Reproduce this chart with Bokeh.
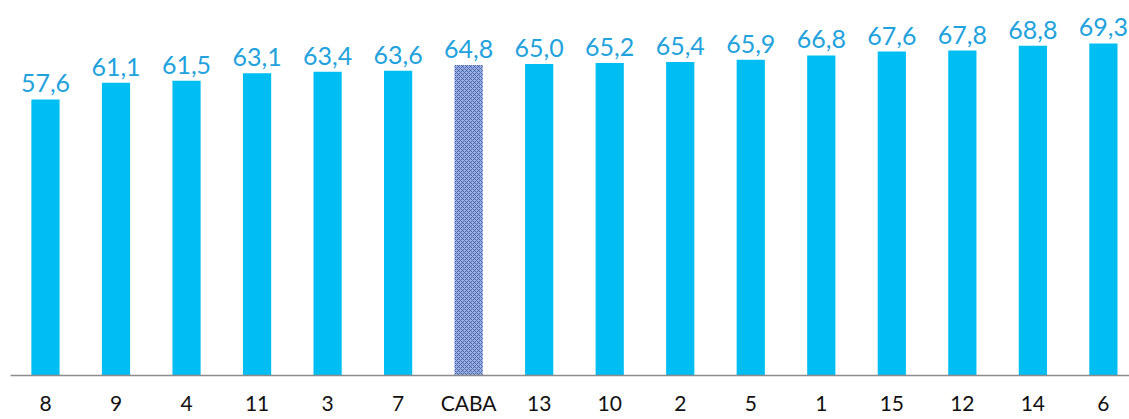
from bokeh.plotting import figure
from bokeh.models import ColumnDataSource, Range1d, FixedTicker, LabelSet
from bokeh.core.properties import value
from bokeh.embed import file_html
from bokeh.resources import INLINE

categories = ["8", "9", "4", "11", "3", "7", "CABA", "13", "10", "2", "5", "1", "15", "12", "14", "6"]
values = [57.6, 61.1, 61.5, 63.1, 63.4, 63.6, 64.8, 65.0, 65.2, 65.4, 65.9, 66.8, 67.6, 67.8, 68.8, 69.3]
highlight = "CABA"

idx = list(range(len(categories)))
src = ColumnDataSource(dict(
    x=idx,
    v=values,
    lab=[f"{v:.1f}".replace(".", ",") for v in values],
    color=["#9db2e3" if c == highlight else "#00bdf2" for c in categories],
    hatch=["x" if c == highlight else " " for c in categories],
))

p = figure(width=1129, height=419, output_backend="svg", toolbar_location=None,
           x_range=Range1d(-0.496, 15.37), y_range=Range1d(0, 78.26),
           y_axis_location=None, min_border_left=10, min_border_right=0,
           min_border_top=0, min_border_bottom=44)
p.outline_line_color = None
p.xgrid.visible = False
p.ygrid.visible = False
p.background_fill_color = "white"

p.vbar(x="x", top="v", bottom=0, width=0.4, source=src, fill_color="color",
       line_color=None, hatch_pattern="hatch", hatch_color="#34509f",
       hatch_scale=4, hatch_weight=1.0, hatch_alpha=0.8)

labels = LabelSet(x="x", y="v", text="lab", source=src, y_offset=7,
                  text_align="center", text_baseline="alphabetic",
                  text_font=value("Lato"), text_font_size="25px", text_color="#22a2dd")
p.add_layout(labels)

ax = p.xaxis[0]
ax.ticker = FixedTicker(ticks=idx)
ax.major_label_overrides = {i: c for i, c in zip(idx, categories)}
ax.major_tick_line_color = None
ax.minor_tick_line_color = None
ax.axis_line_color = "#8c8c8c"
ax.axis_line_width = 1.5
ax.major_label_text_font = "Lato"
ax.major_label_text_font_size = "21px"
ax.major_label_text_color = "#111111"
ax.major_label_standoff = 8

open("out.html", "w").write(file_html(p, INLINE))
